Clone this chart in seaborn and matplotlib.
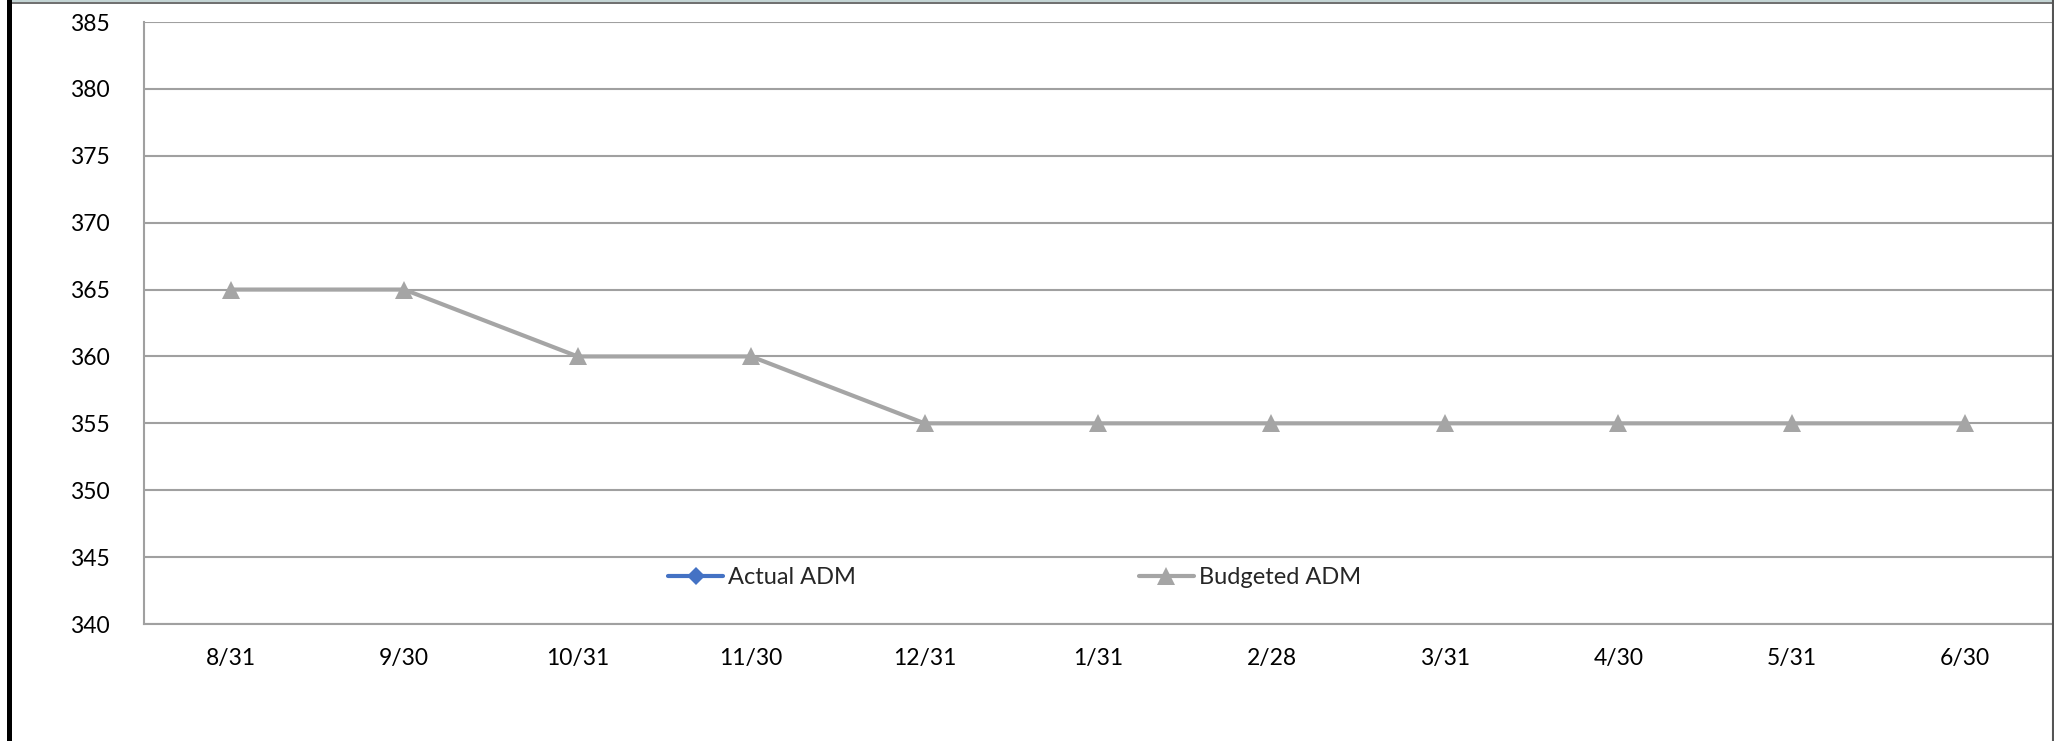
import numpy as np
import pandas as pd
import matplotlib
matplotlib.use("Agg")
import matplotlib.pyplot as plt
from matplotlib.lines import Line2D
from matplotlib.patches import Rectangle
from matplotlib.ticker import MultipleLocator, FixedLocator
import seaborn as sns

# Month-end dates and average daily membership series
months = ["8/31", "9/30", "10/31", "11/30", "12/31", "1/31", "2/28", "3/31", "4/30", "5/31", "6/30"]
actual_adm = [np.nan] * 11
budgeted_adm = [365, 365, 360, 360, 355, 355, 355, 355, 355, 355, 355]
y_ticks = [340, 345, 350, 355, 360, 365, 370, 375, 380, 385]

ACTUAL_COLOR = "#4472C4"
BUDGET_COLOR = "#A5A5A5"
GRID_COLOR = "#A0A0A0"

sns.set_theme(style="white")
plt.rcParams["font.family"] = ["Lato", "DejaVu Sans"]

df = pd.DataFrame({
    "pos": list(range(len(months))) * 2,
    "value": actual_adm + budgeted_adm,
    "series": ["Actual ADM"] * len(months) + ["Budgeted ADM"] * len(months),
})

fig = plt.figure(figsize=(20.54, 7.41), dpi=100)
W, H = 2054, 741
ax = fig.add_axes([144 / W, 1 - 624 / H, (2052 - 144) / W, (624 - 22) / H])

budget = df[df["series"] == "Budgeted ADM"]
sns.lineplot(data=budget, x="pos", y="value", ax=ax, color=BUDGET_COLOR,
             linewidth=3, marker="^", markersize=12.5, markeredgewidth=0,
             sort=False, legend=False, zorder=3)

ax.set_xlim(-0.5, len(months) - 0.5)
ax.set_ylim(340, 385)
ax.set_xlabel("")
ax.set_ylabel("")

# y axis: major ticks outward, minor ticks inward
ax.yaxis.set_major_locator(FixedLocator(y_ticks))
ax.yaxis.set_minor_locator(MultipleLocator(1))
ax.tick_params(axis="y", which="major", direction="out", length=8, width=1.2,
               color=GRID_COLOR, labelsize=16.5, pad=16.5, labelcolor="black")
ax.tick_params(axis="y", which="minor", direction="in", length=6, width=1.2,
               color=GRID_COLOR)
ax.grid(axis="y", which="major", color=GRID_COLOR, linewidth=1.5, zorder=0)

# x axis: labels at category centres, tick marks at category boundaries
ax.set_xticks(range(len(months)))
ax.set_xticklabels(months)
ax.set_xticks(np.arange(-0.5, len(months), 1.0), minor=True)
ax.tick_params(axis="x", which="major", length=0, labelsize=16.5, pad=17, labelcolor="black")
ax.tick_params(axis="x", which="minor", direction="out", length=8, width=1.2,
               color=GRID_COLOR)

for side in ["top", "right"]:
    ax.spines[side].set_visible(False)
for side in ["left", "bottom"]:
    ax.spines[side].set_color(GRID_COLOR)
    ax.spines[side].set_linewidth(1.5)

handles = [
    Line2D([], [], color=ACTUAL_COLOR, linewidth=3, marker="D", markersize=9,
           markeredgewidth=0),
    Line2D([], [], color=BUDGET_COLOR, linewidth=3, marker="^", markersize=12.5,
           markeredgewidth=0),
]
ax.legend(handles, ["Actual ADM", "Budgeted ADM"], ncol=2, frameon=False,
          fontsize=17, handlelength=2.33, handletextpad=0.2, columnspacing=12.0,
          loc="center left", bbox_to_anchor=(668 / W, 1 - 578 / H),
          bbox_transform=fig.transFigure, borderaxespad=0, borderpad=0)

# frame around the chart area
fig.patches.append(Rectangle((7 / W, 0), 5 / W, 1, transform=fig.transFigure,
                             facecolor="black", edgecolor="none", zorder=10))
fig.add_artist(Line2D([12 / W, 1], [1 - 2.5 / H, 1 - 2.5 / H], transform=fig.transFigure,
                      color="#555555", linewidth=1.2))
fig.add_artist(Line2D([12 / W, 1], [1 - 0.5 / H, 1 - 0.5 / H], transform=fig.transFigure,
                      color="#B8CCCC", linewidth=1.2))
fig.add_artist(Line2D([1 - 1.5 / W, 1 - 1.5 / W], [0, 1], transform=fig.transFigure,
                      color="#555555", linewidth=1.5))

fig.savefig("out.png", dpi=100)
